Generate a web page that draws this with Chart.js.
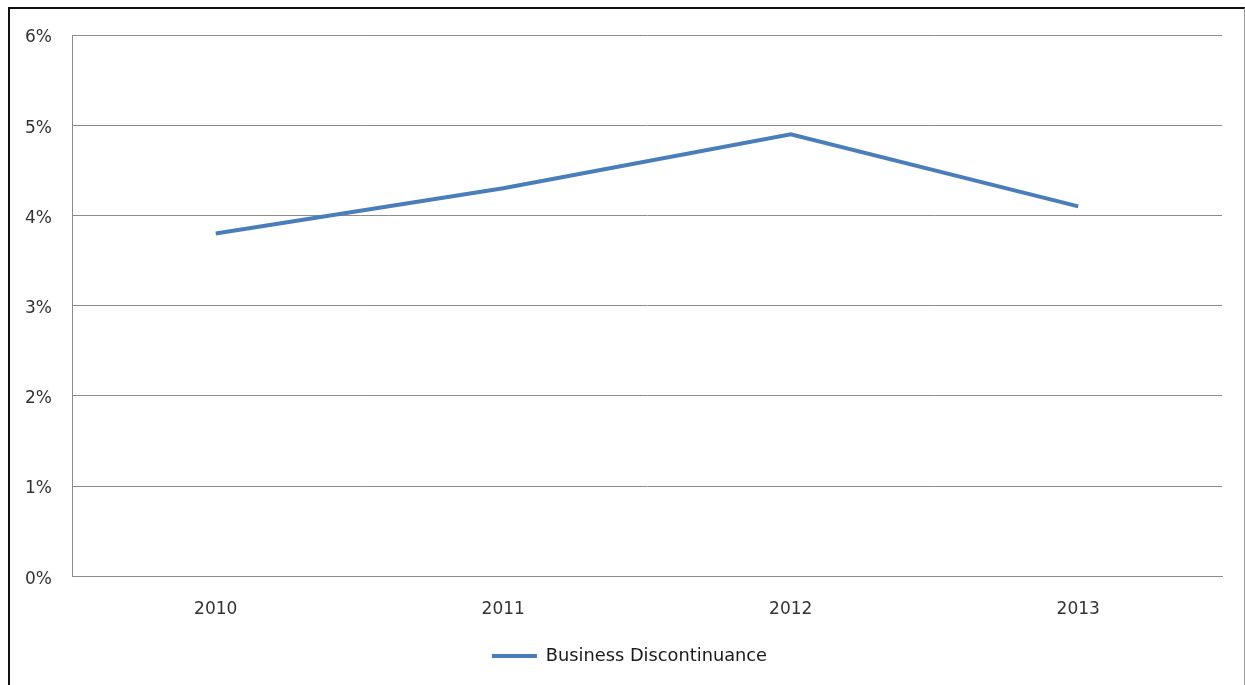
<!DOCTYPE html>
<html>
<head>
<meta charset="utf-8">
<script src="https://cdn.jsdelivr.net/npm/chart.js@4.4.1/dist/chart.umd.min.js"></script>
<style>
  html, body { margin: 0; padding: 0; background: #fff; overflow: hidden; }
  #frame {
    position: absolute; left: 8px; top: 7px;
    width: 1234px; height: 690px;
    border-left: 2px solid #111; border-top: 2px solid #111; border-right: 1px solid #999;
    background: #fff;
  }
  #chart { display: block; }
</style>
</head>
<body>
<div id="frame"><canvas id="chart" width="1234" height="676"></canvas></div>
<script>
// Yearly business discontinuance rate (percent)
const years = ['2010', '2011', '2012', '2013'];
const discontinuance = [3.8, 4.3, 4.9, 4.1];
const seriesName = 'Business Discontinuance';
const yTicks = [0, 1, 2, 3, 4, 5, 6];

const FONT = 'DejaVu Sans';
const SIZE = 17;

// Nudge the legend so it sits centred under the whole frame rather than the
// space left of the right padding.
const legendOffset = {
  id: 'legendOffset',
  afterLayout(chart) {
    const shift = 13.5;
    chart.legend.left += shift;
    chart.legend.right += shift;
  }
};

new Chart(document.getElementById('chart'), {
  type: 'line',
  data: {
    labels: years,
    datasets: [{
      label: seriesName,
      data: discontinuance,
      borderColor: '#4a7ebb',
      backgroundColor: '#4a7ebb',
      borderWidth: 4,
      pointRadius: 0,
      tension: 0,
      fill: false
    }]
  },
  plugins: [legendOffset],
  options: {
    responsive: false,
    animation: false,
    layout: { padding: { top: 26, right: 22, left: 0, bottom: 10 } },
    plugins: {
      tooltip: { enabled: false },
      legend: {
        position: 'bottom',
        labels: {
          usePointStyle: true,
          pointStyle: 'line',
          pointStyleWidth: 45,
          color: '#1a1a1a',
          font: { family: FONT, size: 17.8 },
          padding: 10
        }
      }
    },
    scales: {
      x: {
        offset: true,
        grid: { display: false, drawTicks: false },
        border: { display: true, color: '#8c8c8c', width: 1 },
        ticks: { color: '#333', font: { family: FONT, size: SIZE }, padding: 23 },
        afterFit: (s) => { s.height = 61; }
      },
      y: {
        min: 0, max: 6,
        afterBuildTicks: (s) => { s.ticks = yTicks.map(v => ({ value: v })); },
        grid: { color: '#8c8c8c', lineWidth: 1, drawTicks: false },
        border: { display: true, color: '#8c8c8c', width: 1 },
        ticks: {
          color: '#333',
          font: { family: FONT, size: SIZE, lineHeight: 0.5 },
          padding: 20,
          labelOffset: 3,
          callback: (v) => v + '%'
        },
        afterFit: (s) => { s.width = 62; }
      }
    }
  }
});
</script>
</body>
</html>
